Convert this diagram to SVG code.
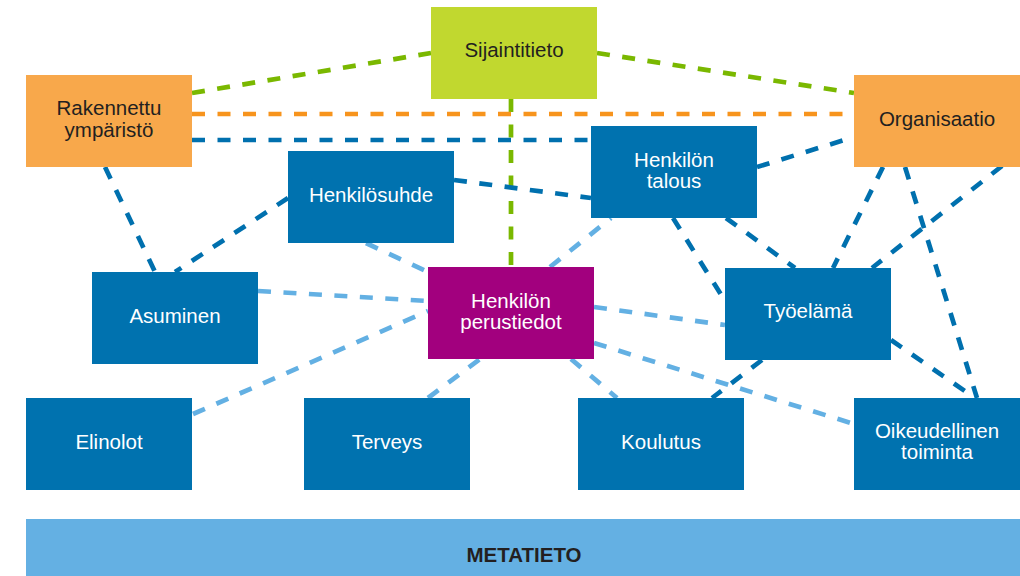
<svg xmlns="http://www.w3.org/2000/svg" width="1020" height="576" viewBox="0 0 1020 576">
<style>
.c{fill:none;stroke-width:4.7;stroke-dasharray:13 12.5}
.g{stroke:#7AB800}
.o{stroke:#F7941D}
.d{stroke:#0070AE}
.l{stroke:#63B0E3}
.blue{fill:#0072AF}
.orange{fill:#F8A84B}
.green{fill:#C1D82F}
.purple{fill:#A2007E}
.meta{fill:#64B0E3}
text{font-family:"Liberation Sans",Arial,sans-serif;font-size:20.5px;text-anchor:middle}
.w{fill:#FFFFFF}
.k{fill:#231F20}
</style>
<rect width="1020" height="576" fill="#FFFFFF"/>
<g id="connectors">
<line class="c g" x1="192" y1="93" x2="431" y2="53"/>
<line class="c g" x1="597" y1="53" x2="854" y2="93"/>
<line class="c g" x1="511" y1="99" x2="511" y2="267"/>
<line class="c o" x1="192" y1="114" x2="854" y2="114"/>
<line class="c d" x1="192" y1="140" x2="591" y2="140"/>
<line class="c d" x1="105" y1="167" x2="155" y2="272"/>
<line class="c d" x1="288" y1="198" x2="175" y2="272"/>
<line class="c d" x1="454" y1="180" x2="591" y2="198"/>
<line class="c d" x1="757" y1="167" x2="854" y2="137"/>
<line class="c d" x1="673" y1="218" x2="725" y2="301"/>
<line class="c d" x1="726" y1="218" x2="795" y2="268"/>
<line class="c d" x1="883" y1="167" x2="833" y2="268"/>
<line class="c d" x1="1002" y1="166" x2="872" y2="268"/>
<line class="c d" x1="905" y1="167" x2="977" y2="398"/>
<line class="c d" x1="891" y1="340" x2="975" y2="398"/>
<line class="c d" x1="762" y1="360" x2="712" y2="398"/>
<line class="c l" x1="366" y1="243" x2="428" y2="272"/>
<line class="c l" x1="258" y1="291" x2="428" y2="301"/>
<line class="c l" x1="193" y1="414" x2="428" y2="311"/>
<line class="c l" x1="428" y1="398" x2="480" y2="359"/>
<line class="c l" x1="550" y1="267" x2="611" y2="218"/>
<line class="c l" x1="594" y1="307" x2="725" y2="325"/>
<line class="c l" x1="594" y1="343" x2="854" y2="424"/>
<line class="c l" x1="571" y1="359" x2="617" y2="398"/>
</g>
<g id="sijaintitieto"><rect class="green" x="431" y="7" width="166" height="92"/><text class="k" x="514" y="57">Sijaintitieto</text></g>
<g id="rakennettu"><rect class="orange" x="26" y="75" width="166" height="92"/><text class="k" x="109" y="115">Rakennettu</text><text class="k" x="109" y="137">ympäristö</text></g>
<g id="organisaatio"><rect class="orange" x="854" y="75" width="166" height="92"/><text class="k" x="937" y="126">Organisaatio</text></g>
<g id="henkilosuhde"><rect class="blue" x="288" y="151" width="166" height="92"/><text class="w" x="371" y="202">Henkilösuhde</text></g>
<g id="talous"><rect class="blue" x="591" y="126" width="166" height="92"/><text class="w" x="674" y="167">Henkilön</text><text class="w" x="674" y="188">talous</text></g>
<g id="asuminen"><rect class="blue" x="92" y="272" width="166" height="92"/><text class="w" x="175" y="323">Asuminen</text></g>
<g id="perustiedot"><rect class="purple" x="428" y="267" width="166" height="92"/><text class="w" x="511" y="308">Henkilön</text><text class="w" x="511" y="329">perustiedot</text></g>
<g id="tyoelama"><rect class="blue" x="725" y="268" width="166" height="92"/><text class="w" x="808" y="318">Työelämä</text></g>
<g id="elinolot"><rect class="blue" x="26" y="398" width="166" height="92"/><text class="w" x="109" y="449">Elinolot</text></g>
<g id="terveys"><rect class="blue" x="304" y="398" width="166" height="92"/><text class="w" x="387" y="449">Terveys</text></g>
<g id="koulutus"><rect class="blue" x="578" y="398" width="166" height="92"/><text class="w" x="661" y="449">Koulutus</text></g>
<g id="oikeudellinen"><rect class="blue" x="854" y="398" width="166" height="92"/><text class="w" x="937" y="438">Oikeudellinen</text><text class="w" x="937" y="459">toiminta</text></g>
<g id="metatieto"><rect class="meta" x="26" y="519" width="994" height="57"/><text class="k" x="524" y="562" font-weight="bold">METATIETO</text></g>
</svg>
